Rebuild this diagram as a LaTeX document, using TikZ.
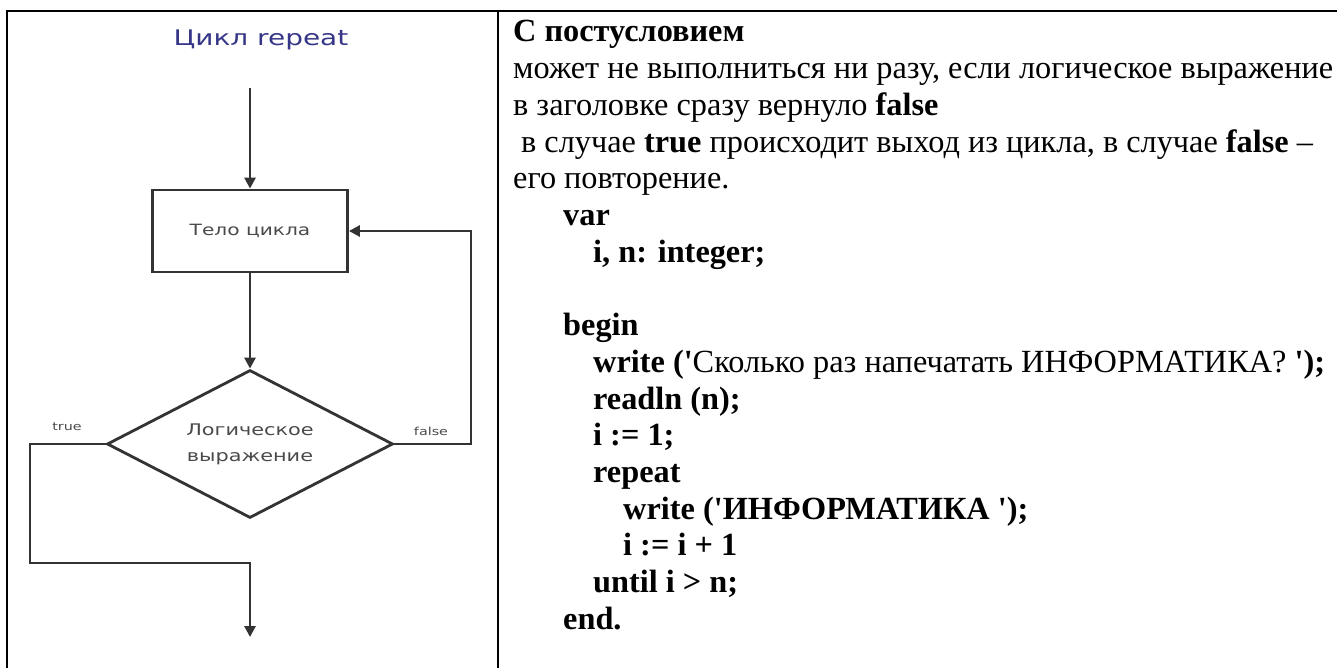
\documentclass[tikz,border=0pt]{standalone}
\usepackage{graphicx}
\usepackage{fontspec}
\setmainfont{Liberation Serif}[Ligatures=TeXOff]
\newfontfamily\fcfont{DejaVu Sans}
\usetikzlibrary{shapes.geometric,arrows.meta}
\definecolor{fcline}{HTML}{333333}
\definecolor{fctext}{HTML}{4A4A4A}
\definecolor{titleblue}{HTML}{363688}
\newcommand{\fcwide}[1]{\scalebox{1.3}[1]{#1}}
\begin{document}
\begin{tikzpicture}[x=1pt,y=-1pt,
  frame/.style={line width=2pt,draw=black},
  fcshape/.style={draw=fcline,line width=2.8pt,inner sep=0pt,text=fctext},
  flow/.style={draw=fcline,line width=2.8pt,-{Triangle[length=11pt,width=11pt]}},
  lbl/.style={text=fctext,inner sep=0pt,font=\fcfont\fontsize{11}{13}\selectfont},
  txt/.style={anchor=base west,inner sep=0pt,font=\fontsize{32.3}{36}\selectfont}]
\useasboundingbox (0,0) rectangle (1337,668);
\fill[white] (0,0) rectangle (1337,668);
% table frame
\draw[frame] (7,668) -- (7,11) -- (1337,11);
\draw[frame] (498,11) -- (498,668);
% flowchart
\node[text=titleblue,font=\fcfont\fontsize{21.5}{24}\selectfont] (title) at (261,40) {\fcwide{Цикл repeat}};
\coordinate (in) at (250,88);
\node[fcshape,rectangle,minimum width=195pt,minimum height=82pt,font=\fcfont\fontsize{15.5}{18}\selectfont] (body) at (250,231) {\fcwide{Тело цикла}};
\node[fcshape,diamond,aspect=2,minimum width=286pt,minimum height=148pt,align=center,font=\fcfont\fontsize{16}{26}\selectfont] (cond) at (250,444) {\fcwide{Логическое}\\\fcwide{выражение}};
\node[lbl] (tl) at (67,427) {\fcwide{true}};
\node[lbl] (fl) at (431,431) {\fcwide{false}};
\coordinate (fb) at (471,444);
\coordinate (c1) at (30,563);
\coordinate (c2) at (250,563);
\coordinate (out) at (250,637);
\draw[flow] (in) -- (body.north);
\draw[flow] (body.south) -- (cond.north);
\draw[flow] (cond.east) -- (fb) |- (body.east);
\draw[flow] (cond.west) -| (c1) -- (c2) -- (out);
% text
\node[txt] (t0) at (513,42) {\textbf{С постусловием}};
\node[txt] (t1) at (513,78.7) {может не выполниться ни разу, если логическое выражение};
\node[txt] (t2) at (513,115.4) {в заголовке сразу вернуло \textbf{false}};
\node[txt] (t3) at (521,152.1) {в случае \textbf{true} происходит выход из цикла, в случае \textbf{false} –};
\node[txt] (t4) at (513,188.8) {его повторение.};
\node[txt] (c5) at (563,225.5) {\textbf{var}};
\node[txt] (c6) at (593,262.2) {\textbf{i, n: integer;}};
\node[txt] (c8) at (563,335.6) {\textbf{begin}};
\node[txt] (c9) at (593,372.3) {\textbf{write ('}Сколько раз напечатать ИНФОРМАТИКА? \textbf{');}};
\node[txt] (c10) at (593,409) {\textbf{readln (n);}};
\node[txt] (c11) at (593,445.7) {\textbf{i := 1;}};
\node[txt] (c12) at (593,482.4) {\textbf{repeat}};
\node[txt] (c13) at (623,519.1) {\textbf{write ('ИНФОРМАТИКА ');}};
\node[txt] (c14) at (623,555.8) {\textbf{i := i + 1}};
\node[txt] (c15) at (593,592.5) {\textbf{until i > n;}};
\node[txt] (c16) at (563,629.2) {\textbf{end.}};
\end{tikzpicture}
\end{document}
